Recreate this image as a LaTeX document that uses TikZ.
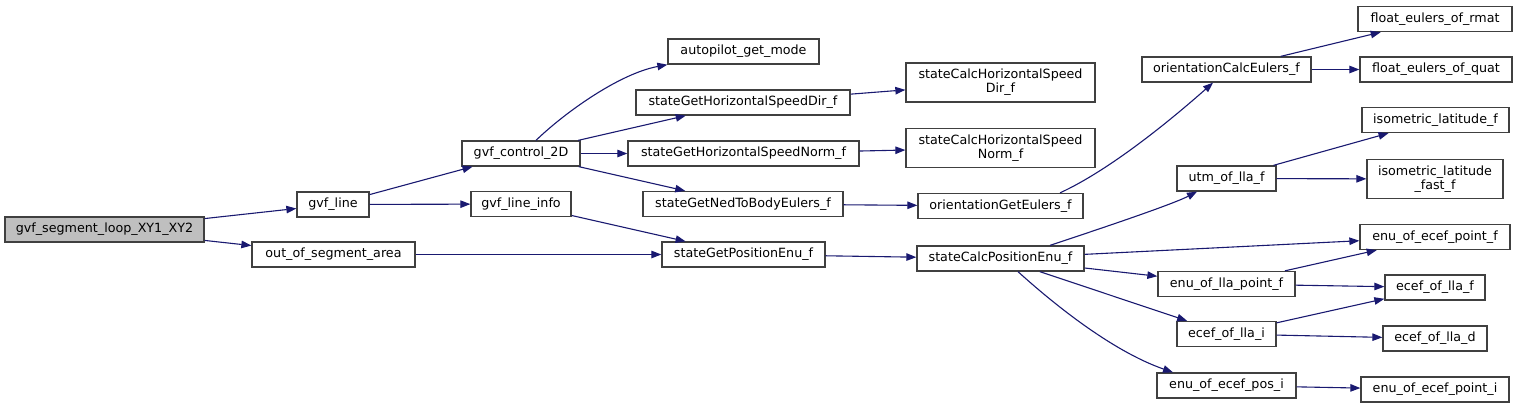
\documentclass[tikz,border=0pt]{standalone}
\usepackage{fontspec}
\setmainfont{DejaVu Sans}
\usetikzlibrary{arrows.meta,calc}
\definecolor{edgeblue}{HTML}{191970}
\definecolor{boxborder}{HTML}{404040}
\definecolor{rootfill}{HTML}{BFBFBF}
\tikzset{
  fn/.style={draw=boxborder, line width=1.3pt, fill=white, inner sep=0pt,
    font=\fontsize{12.7}{14.2}\selectfont, align=center, minimum height=25pt},
  fntwo/.style={fn, minimum height=39pt},
  rootfn/.style={fn, fill=rootfill},
  call/.style={draw=edgeblue, line width=1.1pt, -{Triangle[length=10pt,width=7.5pt]}},
}
\begin{document}
\begin{tikzpicture}[x=1pt,y=-1pt]
\useasboundingbox (0,0) rectangle (1517,408);
% column 0
\node[rootfn, minimum width=199pt] (root) at (104.5,229.5) {gvf\_segment\_loop\_XY1\_XY2};
% column 1
\node[fn, minimum width=72pt]  (gvfline) at (333,204.5) {gvf\_line};
\node[fn, minimum width=163pt] (outseg)  at (333.5,254.5) {out\_of\_segment\_area};
% column 2
\node[fn, minimum width=118pt] (ctrl)     at (521,153.5) {gvf\_control\_2D};
\node[fn, minimum width=100pt] (lineinfo) at (521,204) {gvf\_line\_info};
% column 3
\node[fn, minimum width=151pt] (autopilot) at (743.5,51.5) {autopilot\_get\_mode};
\node[fn, minimum width=214pt] (gethsdir)  at (743,102.5) {stateGetHorizontalSpeedDir\_f};
\node[fn, minimum width=231pt] (gethsnorm) at (743.5,153.5) {stateGetHorizontalSpeedNorm\_f};
\node[fn, minimum width=200pt] (getned)    at (743,204) {stateGetNedToBodyEulers\_f};
\node[fn, minimum width=163pt] (getpos)    at (743.5,254.5) {stateGetPositionEnu\_f};
% column 4
\node[fntwo, minimum width=189pt] (calchsdir)  at (1000.5,82.5) {stateCalcHorizontalSpeed\\Dir\_f};
\node[fntwo, minimum width=189pt] (calchsnorm) at (1000.5,148) {stateCalcHorizontalSpeed\\Norm\_f};
\node[fn, minimum width=165pt] (orientget) at (1000.5,206) {orientationGetEulers\_f};
\node[fn, minimum width=167pt] (calcpos)   at (1000.5,258.5) {stateCalcPositionEnu\_f};
% column 5
\node[fn, minimum width=169pt] (orientcalc) at (1226.5,69.5) {orientationCalcEulers\_f};
\node[fn, minimum width=99pt]  (utm)        at (1226.5,178.5) {utm\_of\_lla\_f};
\node[fn, minimum width=137pt] (enullaptf)  at (1226.5,284) {enu\_of\_lla\_point\_f};
\node[fn, minimum width=99pt]  (ecefllai)   at (1226.5,334) {ecef\_of\_lla\_i};
\node[fn, minimum width=139pt] (enuecefposi) at (1226.5,385.5) {enu\_of\_ecef\_pos\_i};
% column 6
\node[fn, minimum width=154pt] (rmat)      at (1435,19) {float\_eulers\_of\_rmat};
\node[fn, minimum width=152pt] (quat)      at (1436,69.5) {float\_eulers\_of\_quat};
\node[fn, minimum width=147pt] (isof)      at (1435.5,120) {isometric\_latitude\_f};
\node[fntwo, minimum width=136pt] (isofast) at (1435,179) {isometric\_latitude\\\_fast\_f};
\node[fn, minimum width=150pt] (enuecefptf) at (1435,237) {enu\_of\_ecef\_point\_f};
\node[fn, minimum width=100pt] (eceflaf)    at (1435,287.5) {ecef\_of\_lla\_f};
\node[fn, minimum width=104pt] (eceflad)    at (1435,338.5) {ecef\_of\_lla\_d};
\node[fn, minimum width=148pt] (enuecefpti) at (1435,389.5) {enu\_of\_ecef\_point\_i};
% edges
\draw[call] (root) -- (gvfline);
\draw[call] (root) -- (outseg);
\draw[call] (gvfline) -- (ctrl);
\draw[call] (gvfline) -- (lineinfo);
\draw[call] ([xshift=15pt]ctrl.north) .. controls +(29,-28) and +(-48,9) .. (autopilot.south west);
\draw[call] (ctrl) -- (gethsdir);
\draw[call] (ctrl) -- (gethsnorm);
\draw[call] (ctrl) -- (getned);
\draw[call] (lineinfo) -- (getpos);
\draw[call] (outseg) -- (getpos);
\draw[call] (gethsdir) -- (calchsdir);
\draw[call] (gethsnorm) -- (calchsnorm);
\draw[call] (getned) -- (orientget);
\draw[call] (getpos) -- (calcpos);
\draw[call] ([xshift=59.5pt]orientget.north) .. controls +(50,-23) and +(-43,38) .. ([xshift=-13.5pt]orientcalc.south);
\draw[call] (orientcalc) -- (rmat);
\draw[call] (orientcalc) -- (quat);
\draw[call] ([xshift=49.5pt]calcpos.north) .. controls +(30,-10) and +(-27,14) .. ([xshift=-29.5pt]utm.south);
\draw[call] (utm) -- (isof);
\draw[call] (utm) -- (isofast);
\draw[call] (calcpos) -- (enuecefptf);
\draw[call] (calcpos) -- (enullaptf);
\draw[call] (calcpos) -- (ecefllai);
\draw[call] ([xshift=17.5pt]calcpos.south) .. controls +(32,29) and +(-63,-22) .. ([xshift=-53.5pt]enuecefposi.north);
\draw[call] (enullaptf) -- (enuecefptf);
\draw[call] (enullaptf) -- (eceflaf);
\draw[call] (ecefllai) -- (eceflaf);
\draw[call] (ecefllai) -- (eceflad);
\draw[call] (enuecefposi) -- (enuecefpti);
\end{tikzpicture}
\end{document}
